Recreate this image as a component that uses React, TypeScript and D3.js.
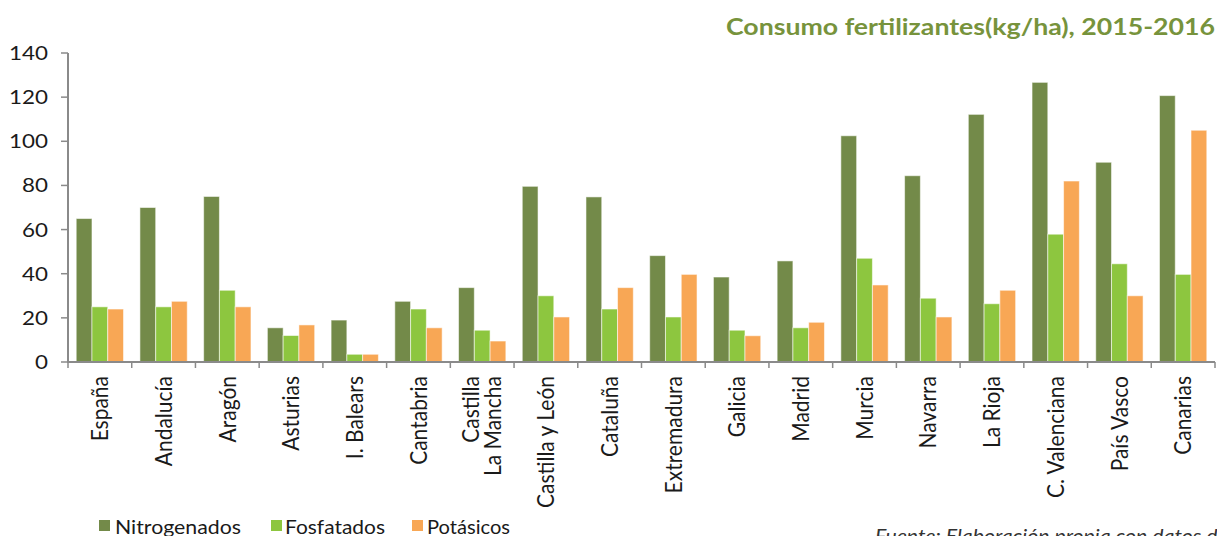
import React from "react";
import * as d3 from "d3";

const categories: string[][] = [
  ["España"], ["Andalucía"], ["Aragón"], ["Asturias"], ["I. Balears"], ["Cantabria"],
  ["Castilla", "La Mancha"], ["Castilla y León"], ["Cataluña"], ["Extremadura"], ["Galicia"],
  ["Madrid"], ["Murcia"], ["Navarra"], ["La Rioja"], ["C. Valenciana"], ["País Vasco"], ["Canarias"],
];
const nitrogenados = [65, 70, 75, 15.5, 19, 27.5, 33.7, 79.6, 74.8, 48.2, 38.5, 45.8, 102.5, 84.4, 112.2, 126.7, 90.5, 120.7];
const fosfatados = [25, 25, 32.5, 12, 3.5, 24, 14.4, 30, 24, 20.4, 14.4, 15.5, 47, 28.9, 26.4, 57.9, 44.5, 39.7];
const potasicos = [24, 27.5, 25, 16.8, 3.5, 15.5, 9.5, 20.4, 33.7, 39.7, 11.9, 18, 34.9, 20.4, 32.5, 82, 30, 105];
const seriesNames = ["Nitrogenados", "Fosfatados", "Potásicos"];
const yTicks = [0, 20, 40, 60, 80, 100, 120, 140];
const title = "Consumo fertilizantes(kg/ha), 2015-2016";
const source = "Fuente: Elaboración propia con datos del MAPA";

const colors = ["#738a49", "#8dc63f", "#f8a755"];
const axisColor = "#8a8a8a";
const font = "Lato, 'Open Sans', sans-serif";
const SX = 1.12;

export default function App() {
  const W = 1217, H = 536;
  const keys = categories.map((c) => c.join(" "));
  const x = d3.scaleBand<string>().domain(keys).range([68, 1215]).paddingInner(0).paddingOuter(0);
  const y = d3.scaleLinear().domain([0, 140]).range([362, 53]);
  const inner = d3.scaleBand<string>().domain(seriesNames).range([0, x.bandwidth()]).paddingOuter(0.52).paddingInner(0);
  const data = [nitrogenados, fosfatados, potasicos];

  const legendItems = [
    { name: "Nitrogenados", sx: 99, tx: 115, len: 126 },
    { name: "Fosfatados", sx: 271, tx: 285, len: 100 },
    { name: "Potásicos", sx: 412, tx: 427, len: 83 },
  ];

  return (
    <svg width={W} height={H} style={{ position: "absolute", left: 0, top: 0, background: "#fff" }}>
      <text x={1215} y={35} textAnchor="end" fontFamily={font} fontWeight={700} fontSize={23}
        textLength={489} lengthAdjust="spacingAndGlyphs" fill="#77933c">{title}</text>

      {/* bars */}
      {data.map((vals, si) => (
        <g key={si}>
          {vals.map((v, i) => {
            const bx = (x(keys[i]) ?? 0) + (inner(seriesNames[si]) ?? 0);
            return (
              <rect key={i} x={bx} y={y(v)} width={inner.bandwidth()} height={y(0) - y(v)}
                fill={colors[si]} stroke="#ffffff" strokeOpacity={0.55} strokeWidth={1} />
            );
          })}
        </g>
      ))}

      {/* y axis */}
      <line x1={68} x2={68} y1={y(140)} y2={y(0)} stroke={axisColor} strokeWidth={2} />
      {yTicks.map((t) => (
        <g key={t}>
          <line x1={61} x2={68} y1={y(t)} y2={y(t)} stroke={axisColor} strokeWidth={1.5} />
          <text transform={`translate(48,${y(t)}) scale(${SX},1)`} dy="0.35em" textAnchor="end" fontFamily={font} fontSize={20} fill="#1a1a1a">{t}</text>
        </g>
      ))}

      {/* x axis */}
      <line x1={67} x2={1215} y1={y(0)} y2={y(0)} stroke={axisColor} strokeWidth={2} />
      {keys.map((k) => (
        <line key={k} x1={x(k)} x2={x(k)} y1={y(0)} y2={y(0) + 6} stroke={axisColor} strokeWidth={1.5} />
      ))}
      <line x1={1215} x2={1215} y1={y(0)} y2={y(0) + 6} stroke={axisColor} strokeWidth={1.5} />

      {categories.map((lines, i) => {
        const cx = (x(keys[i]) ?? 0) + x.bandwidth() / 2;
        const n = lines.length;
        return lines.map((ln, li) => {
          const off = (li - (n - 1) / 2) * 22;
          return (
            <text key={i + "-" + li} transform={`translate(${cx + off},376) scale(${SX},1) rotate(-90)`} dy="0.35em"
              textAnchor="end" fontFamily={font} fontSize={21} fill="#1a1a1a">{ln}</text>
          );
        });
      })}

      {/* legend */}
      {legendItems.map((it, i) => (
        <g key={it.name}>
          <rect x={it.sx} y={520} width={11} height={11} fill={colors[i]} />
          <text x={it.tx} y={534} fontFamily={font} fontSize={20} fill="#1a1a1a"
            textLength={it.len} lengthAdjust="spacingAndGlyphs">{it.name}</text>
        </g>
      ))}

      <text transform={`translate(875,543) scale(${SX},1)`} fontFamily={font} fontStyle="italic" fontSize={19} fill="#333">{source}</text>
    </svg>
  );
}
